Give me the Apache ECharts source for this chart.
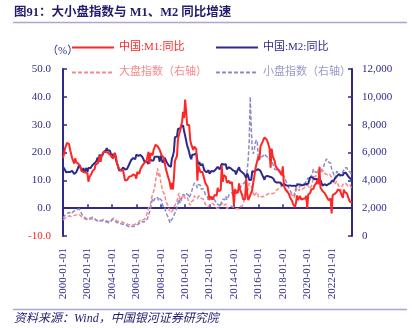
<!DOCTYPE html>
<html><head><meta charset="utf-8">
<script src="https://cdn.jsdelivr.net/npm/echarts@6/dist/echarts.min.js"></script>
<style>html,body{margin:0;padding:0;background:#fff}#c{width:412px;height:328px}</style>
</head><body><div id="c"></div>
<script>
// monthly categories 2000-01 .. 2023-09
var startYear = 2000, endYear = 2023, endMonth = 9;
var categories = [];
for (var y = startYear; y <= endYear; y++) {
  for (var m = 1; m <= 12; m++) {
    if (y === endYear && m > endMonth) break;
    categories.push(y + '-' + (m < 10 ? '0' + m : m) + '-01');
  }
}
var leftTicks = [-10, 0, 10, 20, 30, 40, 50];
var rightTicks = [0, 2000, 4000, 6000, 8000, 10000, 12000];

var m1 = [
 18.0,19.5,21.5,22.5,23.5,24.0,23.0,21.0,19.5,18.0,17.0,16.0,
 17.9,16.5,17.0,16.0,15.5,15.0,13.5,13.2,13.0,13.0,12.8,12.7,
 12.6,9.5,11.2,11.4,12.4,13.3,13.2,14.0,15.7,16.1,16.0,16.8,
 18.9,16.6,19.1,18.8,20.2,20.2,20.2,20.1,20.0,19.8,19.3,18.7,
 18.6,17.8,18.9,19.9,18.6,16.1,15.7,14.1,13.7,13.6,14.3,13.6,
 13.9,9.9,9.9,10.1,10.4,11.3,11.6,11.5,11.6,12.1,12.7,11.8,
 10.6,13.0,12.6,12.4,13.9,14.0,15.3,15.6,16.3,16.3,16.8,17.5,
 20.2,16.0,19.8,19.6,19.0,20.9,20.6,22.8,22.1,22.2,21.7,21.0,
 20.7,18.9,18.3,18.2,18.1,14.2,14.0,11.6,11.5,9.1,6.8,9.1,
 6.7,10.9,17.0,17.5,18.7,24.8,26.4,27.7,29.5,31.0,34.6,32.4,
 39.0,34.9,29.9,30.3,29.9,24.6,22.9,21.9,20.9,22.1,22.1,21.2,
 9.9,15.3,15.0,12.9,12.7,13.1,11.6,11.2,8.9,8.4,7.8,7.9,
 3.1,4.3,4.4,3.1,3.5,4.7,4.6,4.5,7.3,6.1,5.5,6.5,
 15.3,9.5,11.9,11.9,11.3,9.1,9.7,9.9,8.9,8.9,9.4,9.3,
 1.2,6.9,5.4,5.3,5.7,8.9,6.7,5.7,4.8,3.2,3.2,3.2,
 10.6,5.6,2.9,3.7,4.7,4.3,6.6,9.3,11.4,14.0,15.7,15.2,
 18.6,17.4,22.1,22.9,23.7,24.6,25.4,25.3,24.7,23.9,22.7,21.4,
 14.5,21.4,18.8,18.5,17.0,15.0,15.3,14.0,14.0,13.0,12.7,11.8,
 15.0,8.5,7.1,7.2,6.0,6.6,5.1,3.9,4.0,2.7,1.5,1.5,
 0.4,2.0,4.6,2.9,3.4,4.4,3.1,3.4,3.4,3.3,3.5,4.4,
 0.0,4.8,5.0,5.5,6.8,6.5,6.9,8.0,8.1,9.1,10.0,8.6,
 14.7,7.4,7.1,6.2,6.1,5.5,4.9,4.2,3.7,2.8,3.0,3.5,
 -1.9,4.7,4.7,5.1,4.6,5.8,6.7,6.1,6.4,5.8,4.6,3.7,
 6.7,5.8,5.1,5.3,4.7,3.1,2.3,2.2,2.1
];
var m2 = [
 14.9,14.7,13.7,12.9,12.8,13.0,13.2,13.0,13.5,13.4,13.2,12.3,
 13.0,12.9,13.2,14.7,15.5,14.7,14.5,13.1,14.4,13.0,13.0,14.4,
 13.0,14.4,14.4,14.4,14.7,15.5,15.9,16.1,16.5,17.0,18.2,16.8,
 19.3,18.2,18.5,19.2,20.2,20.8,20.7,21.6,20.7,20.4,20.7,19.6,
 18.2,19.4,19.1,19.1,17.5,16.2,15.3,13.6,13.9,13.5,14.0,14.6,
 14.1,13.9,14.0,14.1,14.6,15.7,16.3,17.3,17.9,18.0,18.3,17.6,
 19.2,18.8,18.8,18.9,19.1,18.4,18.4,17.9,16.8,17.1,16.8,16.9,
 15.9,17.8,17.3,17.1,16.7,17.1,18.5,18.1,18.5,18.5,18.5,16.7,
 18.9,17.5,16.3,16.9,18.1,17.4,16.4,16.0,15.3,15.0,14.8,17.8,
 18.8,20.5,25.5,26.0,25.7,28.5,28.4,28.5,29.3,29.4,29.7,27.7,
 26.1,25.5,22.5,21.5,21.0,18.5,17.6,19.2,19.0,19.3,19.5,19.7,
 17.2,15.7,16.6,15.3,15.1,15.9,14.7,13.5,13.0,12.9,12.7,13.6,
 12.4,13.0,13.4,12.8,13.2,13.6,13.9,13.5,14.8,14.1,13.9,13.8,
 15.9,15.2,15.7,16.1,15.8,14.0,14.5,14.7,14.2,14.3,14.2,13.6,
 13.2,13.3,12.1,13.2,13.4,14.7,13.5,12.8,12.9,12.6,12.3,12.2,
 10.8,12.5,11.6,10.1,10.8,10.2,13.3,13.3,13.1,13.5,13.7,13.3,
 14.0,13.3,13.4,12.8,11.8,11.8,10.2,11.4,11.5,11.6,11.4,11.3,
 11.3,11.1,10.6,10.5,9.6,9.4,9.2,8.9,9.2,8.8,9.1,8.1,
 8.6,8.8,8.2,8.3,8.3,8.0,8.5,8.2,8.3,8.0,8.0,8.1,
 8.4,8.0,8.6,8.5,8.5,8.5,8.1,8.2,8.4,8.4,8.2,8.7,
 8.4,8.8,10.1,11.1,11.1,11.1,10.7,10.4,10.9,10.5,10.7,10.1,
 9.4,10.1,9.4,8.1,8.3,8.6,8.3,8.2,8.3,8.7,8.5,9.0,
 9.8,9.2,9.7,10.5,11.1,11.4,12.0,12.2,12.1,11.8,12.4,11.8,
 12.6,12.9,12.7,12.4,11.6,11.3,10.7,10.6,10.3
];
var bigCap = [
 1150,1200,1280,1350,1380,1420,1450,1430,1400,1420,1450,1480,
 1500,1470,1520,1530,1550,1540,1400,1300,1250,1200,1220,1200,
 1150,1180,1200,1250,1220,1300,1250,1230,1170,1120,1080,1050,
 1120,1130,1120,1180,1200,1150,1130,1100,1050,1030,1060,1120,
 1200,1280,1300,1200,1150,1050,1050,1020,1050,1000,1000,960,
 950,1000,920,900,830,830,800,860,830,800,800,850,
 900,950,950,1050,1150,1200,1150,1150,1200,1280,1450,1750,
 2000,2050,2300,2700,3000,3000,3400,4000,4400,4860,4300,4500,
 3900,3800,3200,3300,3000,2500,2500,2200,2000,1700,1800,1750,
 1900,1950,2200,2350,2500,2850,3100,2550,2650,2800,2950,2900,
 2700,2750,2800,2600,2350,2200,2450,2450,2550,2900,2750,2700,
 2700,2850,2850,2850,2700,2750,2650,2500,2250,2350,2250,2100,
 2150,2300,2200,2350,2300,2200,2100,2000,2050,2000,2000,2250,
 2350,2350,2200,2150,2300,1950,2000,2100,2150,2150,2200,2100,
 2000,1950,1950,1950,1950,1950,2100,2100,2150,2200,2550,3050,
 3100,3150,3450,3800,3900,3600,3350,3000,2850,3050,3150,3150,
 2800,2700,2850,2800,2800,2850,2900,2950,2950,3000,3050,2950,
 3000,3050,3050,3050,3100,3250,3300,3350,3400,3500,3500,3550,
 3800,3600,3500,3400,3400,3200,3150,3000,3050,2950,2900,2750,
 2950,3300,3450,3500,3250,3400,3400,3350,3400,3450,3500,3650,
 3650,3600,3400,3500,3550,3800,4250,4350,4250,4400,4600,4800,
 5000,4900,4600,4650,4700,4650,4450,4400,4400,4500,4450,4450,
 4200,4100,3900,3700,3750,3950,3750,3700,3450,3250,3550,3600,
 3800,3750,3750,3700,3600,3600,3700,3500,3400
];
var smallCap = [
 1300,1400,1500,1550,1600,1650,1700,1650,1600,1650,1750,1800,
 1850,1800,1900,1950,1950,1900,1650,1500,1400,1350,1350,1250,
 1180,1200,1250,1300,1250,1350,1300,1250,1180,1120,1080,1050,
 1100,1120,1080,1100,1080,1050,1020,1000,980,950,980,1050,
 1150,1200,1200,1100,1050,950,950,950,950,880,880,850,
 850,850,800,750,680,650,650,700,700,680,680,720,
 780,820,820,900,1000,1050,1000,1000,1050,1050,1100,1250,
 1500,1700,1950,2400,2650,2500,2650,2800,2800,2750,2550,2700,
 2700,2550,2150,2100,2100,1700,1700,1400,1250,950,1100,1150,
 1300,1400,1650,1850,2050,2350,2650,2350,2550,2800,3000,3000,
 2900,3050,3150,2950,2750,2750,3100,3350,3450,3800,3850,3700,
 3450,3700,3750,3650,3350,3350,3400,3200,2950,3000,2800,2500,
 2550,2800,2600,2800,2750,2600,2450,2300,2300,2250,2100,2300,
 2500,2650,2600,2600,2850,2600,2750,2950,3050,3050,3150,3150,
 3250,3350,3250,3200,3300,3400,3400,3550,3700,3800,3800,3950,
 4300,4700,5500,6800,10000,7800,6200,5900,6200,6700,6900,6700,
 5400,5500,5700,5800,5700,5800,5900,5800,5700,5750,5700,5500,
 5300,5350,5250,5000,4800,4800,4750,4850,4800,4700,4600,4500,
 4500,4300,4200,3950,3900,3600,3500,3300,3200,3000,3050,2900,
 3000,3500,3800,3800,3500,3550,3650,3700,3750,3750,3800,3950,
 4000,4200,4050,4200,4250,4450,4800,4850,4600,4600,4550,4550,
 4650,4700,4750,4850,4950,5200,5200,5550,5450,5300,5350,5250,
 4800,4750,4450,4150,4350,4650,4700,4500,4300,4400,4450,4500,
 4750,4900,4850,4900,4700,4650,4600,4500,4400
];
var seriesNames = ['中国:M1:同比', '中国:M2:同比', '大盘指数（右轴）', '小盘指数（右轴）'];

var NAVY = '#2F2A8A', RED = '#FF2626', PINK = '#F58A8C', LAV = '#8E8AC6';
var SERIF = "'Liberation Serif','Noto Sans CJK SC',serif";
var every2y = function (i) { return i % 24 === 0; };

var chart = echarts.init(document.getElementById('c'), null, {renderer: 'canvas'});
chart.setOption({
  animation: false,
  backgroundColor: '#fff',
  grid: {left: 63, right: 60, top: 69, bottom: 92, containLabel: false, outerBoundsMode: 'none'},
  legend: [{
    left: 71, top: 42, padding: 0, orient: 'vertical', itemWidth: 42, itemHeight: 10, itemGap: 14,
    itemStyle: {opacity: 0},
    textStyle: {fontSize: 11, fontFamily: SERIF},
    data: [{name: seriesNames[0], textStyle: {color: RED}}, {name: seriesNames[2], textStyle: {color: PINK}}]
  }, {
    left: 215, top: 42, padding: 0, orient: 'vertical', itemWidth: 42, itemHeight: 10, itemGap: 14,
    itemStyle: {opacity: 0},
    textStyle: {fontSize: 11, fontFamily: SERIF},
    data: [{name: seriesNames[1], textStyle: {color: NAVY}}, {name: seriesNames[3], textStyle: {color: '#9A98C8'}}]
  }],
  xAxis: [{
    type: 'category', data: categories, boundaryGap: false, position: 'bottom',
    axisLine: {show: false, onZero: false},
    axisTick: {show: false},
    axisLabel: {rotate: 90, margin: 12, color: NAVY, fontSize: 11, fontFamily: SERIF, interval: every2y},
    splitLine: {show: false}
  }, {
    type: 'category', data: categories, boundaryGap: false, position: 'bottom',
    axisLine: {onZero: true, onZeroAxisIndex: 0, lineStyle: {color: NAVY, width: 2}},
    axisTick: {inside: true, length: 4, interval: every2y, lineStyle: {color: NAVY, width: 1.5}},
    axisLabel: {show: false},
    splitLine: {show: false}
  }],
  yAxis: [{
    type: 'value', min: leftTicks[0], max: leftTicks[leftTicks.length - 1], interval: 10,
    axisLine: {show: true, lineStyle: {color: NAVY, width: 2}},
    axisTick: {show: true, inside: true, length: 4, lineStyle: {color: NAVY, width: 1.5}},
    axisLabel: {margin: 12, fontSize: 11, fontFamily: SERIF,
      formatter: function (v) { return v.toFixed(1); },
      color: function (v) { return Number(v) < 0 ? RED : NAVY; }},
    splitLine: {show: false}
  }, {
    type: 'value', position: 'right', min: rightTicks[0], max: rightTicks[rightTicks.length - 1], interval: 2000,
    axisLine: {show: true, lineStyle: {color: NAVY, width: 2}},
    axisTick: {show: true, inside: true, length: 4, lineStyle: {color: NAVY, width: 1.5}},
    axisLabel: {margin: 10, color: NAVY, fontSize: 11, fontFamily: SERIF,
      formatter: function (v) { return v.toLocaleString('en-US'); }},
    splitLine: {show: false}
  }],
  series: [
    {name: seriesNames[2], type: 'line', yAxisIndex: 1, data: bigCap, symbol: 'none',
      lineStyle: {color: PINK, width: 1.5, type: [4, 2]}, itemStyle: {color: PINK}, z: 2},
    {name: seriesNames[3], type: 'line', yAxisIndex: 1, data: smallCap, symbol: 'none',
      lineStyle: {color: LAV, width: 1.5, type: [4, 2]}, itemStyle: {color: LAV}, z: 2},
    {name: seriesNames[1], type: 'line', yAxisIndex: 0, data: m2, symbol: 'none',
      lineStyle: {color: NAVY, width: 2}, itemStyle: {color: NAVY}, z: 3},
    {name: seriesNames[0], type: 'line', yAxisIndex: 0, data: m1, symbol: 'none',
      lineStyle: {color: RED, width: 2}, itemStyle: {color: RED}, z: 4}
  ],
  graphic: [
    {type: 'text', left: 14, top: 7, style: {text: '图91：大小盘指数与 M1、M2 同比增速', fill: '#231C6E',
      font: "bold 12.5px 'Liberation Serif','Noto Sans CJK SC',serif"}},
    {type: 'line', shape: {x1: 13, y1: 22.5, x2: 407, y2: 22.5}, style: {stroke: '#A9A7D6', lineWidth: 1.5}},
    {type: 'text', left: 47, top: 46, style: {text: '（%）', fill: NAVY, font: "11px 'Liberation Serif','Noto Sans CJK SC',serif"}},
    {type: 'line', shape: {x1: 13, y1: 309.5, x2: 407, y2: 309.5}, style: {stroke: '#A9A7D6', lineWidth: 1.5}},
    {type: 'text', left: 14, top: 313, style: {text: '资料来源：Wind，中国银河证券研究院', fill: '#231C6E',
      font: "italic 12px 'Liberation Serif','Noto Sans CJK SC',serif"}}
  ]
});
</script></body></html>
